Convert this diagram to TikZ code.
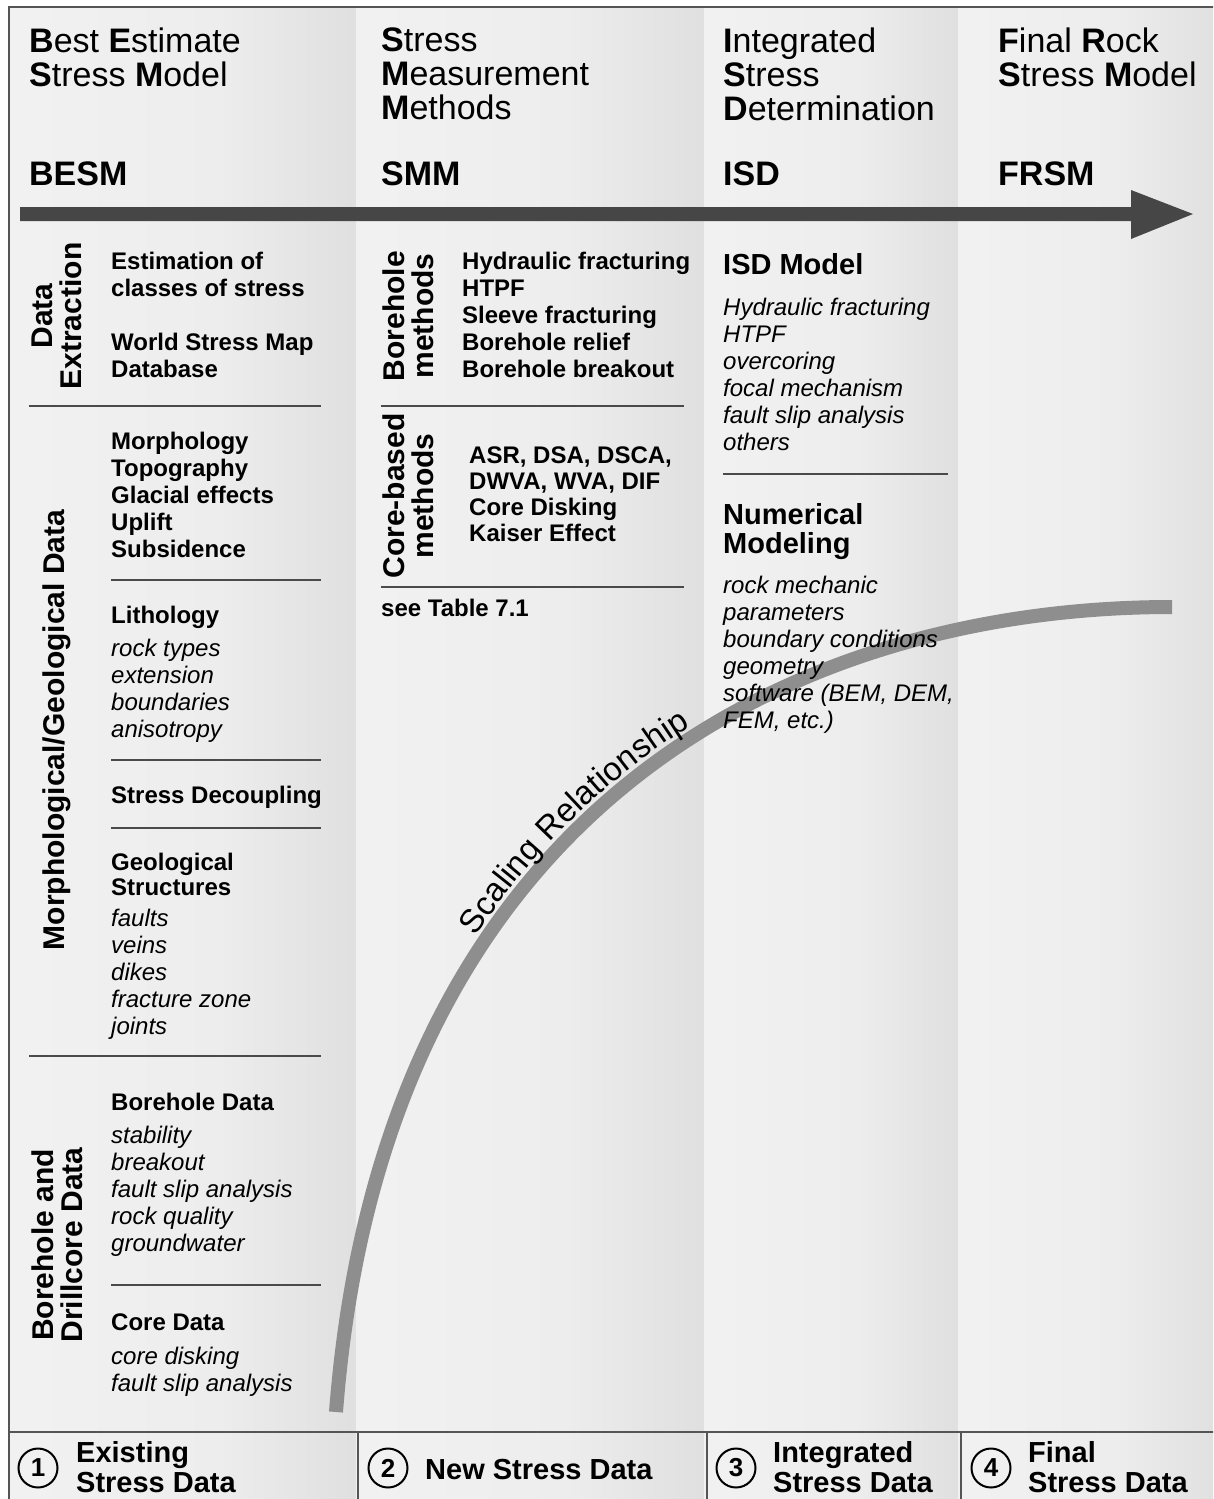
\documentclass[tikz,border=0pt]{standalone}
\usepackage{fontspec}
\setmainfont{Liberation Sans}
\usetikzlibrary{decorations.text}
\definecolor{gz}{HTML}{F5F5F5}
\definecolor{ga}{HTML}{EDEDED}
\definecolor{gb}{HTML}{D9D9D9}
\definecolor{gc}{HTML}{B6B6B6}
\definecolor{rulec}{HTML}{4A4A4A}
\definecolor{framec}{HTML}{555555}
\definecolor{arrowc}{HTML}{464646}
\definecolor{curvec}{HTML}{8E8E8E}
\pgfdeclarehorizontalshading{colsh}{100bp}{color(0bp)=(gz); color(55bp)=(ga); color(85bp)=(gb); color(100bp)=(gc)}
\newcommand\scfont{\fontsize{33}{33}\selectfont}
\begin{document}
\begin{tikzpicture}[x=1pt,y=-1pt,
  hd/.style={font=\fontsize{34}{34}\selectfont, anchor=north west, inner sep=0, align=left},
  hdb/.style={font=\bfseries\fontsize{34}{34}\selectfont, anchor=north west, inner sep=0},
  bl/.style={font=\bfseries\fontsize{24}{27}\selectfont, anchor=north west, inner sep=0, align=left},
  blb/.style={font=\bfseries\fontsize{29}{29}\selectfont, anchor=north west, inner sep=0, align=left},
  it/.style={font=\itshape\fontsize{24}{27}\selectfont, anchor=north west, inner sep=0, align=left},
  vt/.style={font=\bfseries\fontsize{30}{29}\selectfont, rotate=90, align=center, inner sep=0},
  bt/.style={font=\bfseries\fontsize{29}{30}\selectfont, anchor=north west, inner sep=0, align=left},
  circ/.style={circle, draw, line width=2pt, minimum size=39pt, inner sep=0, font=\bfseries\fontsize{26}{26}\selectfont},
  rule/.style={draw=rulec, line width=2pt},
  frame/.style={draw=framec, line width=2.5pt}
]
\useasboundingbox (0,0) rectangle (1213,1499);
\clip (0,0) rectangle (1213,1499);
\fill[white] (0,0) rectangle (1213,1499);
% columns
\shade[shading=colsh] (9,7) rectangle (356,1520);
\shade[shading=colsh] (356,7) rectangle (704,1520);
\shade[shading=colsh] (704,7) rectangle (958,1520);
\shade[shading=colsh] (958,7) rectangle (1222,1520);
% frame and bottom row
\draw[frame] (9,1520) -- (9,7) -- (1240,7);
\draw[frame] (9,1432) -- (1240,1432);
\draw[frame] (358,1432) -- (358,1520);
\draw[frame] (707,1432) -- (707,1520);
\draw[frame] (961,1432) -- (961,1520);
% scaling curve (beneath the texts)
\coordinate (cs) at (336,1412);
\coordinate (ce) at (1172,607);
\draw[curvec, line width=14pt] (cs) .. controls (383,800) and (800,607) .. (ce);
\path[decorate, decoration={text along path, text={|\scfont|Scaling Relationship}, text align={left indent=498pt}, raise=10pt}] (cs) .. controls (383,800) and (800,607) .. (ce);
% headers
\node[hd] (h1) at (29,28) {\textbf{B}est \textbf{E}stimate\\\textbf{S}tress \textbf{M}odel};
\node[hd] (h2) at (381,28) {\textbf{S}tress\\\textbf{M}easurement\\\textbf{M}ethods};
\node[hd] (h3) at (723,28) {\textbf{I}ntegrated\\\textbf{S}tress\\\textbf{D}etermination};
\node[hd] (h4) at (998,28) {\textbf{F}inal \textbf{R}ock\\\textbf{S}tress \textbf{M}odel};
\node[hdb] (a1) at (29,162) {BESM};
\node[hdb] (a2) at (381,162) {SMM};
\node[hdb] (a3) at (723,162) {ISD};
\node[hdb] (a4) at (998,162) {FRSM};
% main arrow
\fill[arrowc] (20,207) -- (1131,207) -- (1131,190) -- (1193,214) -- (1131,239) -- (1131,221) -- (20,221) -- cycle;
% column 1
\node[vt] (de) at (57,316) {Data\\Extraction};
\node[vt] (mg) at (57,730) {Morphological/Geological Data};
\node[vt] (bd) at (57,1245) {Borehole and\\Drillcore Data};
\node[bl] (ext1) at (111,252) {Estimation of\\classes of stress};
\node[bl] (ext2) at (111,333) {World Stress Map\\Database};
\draw[rule] (29,406) -- (321,406);
\node[bl] (morph) at (111,432) {Morphology\\Topography\\Glacial effects\\Uplift\\Subsidence};
\draw[rule] (111,580) -- (321,580);
\node[bl] (lith) at (111,606) {Lithology};
\node[it] (lithi) at (111,639) {rock types\\extension\\boundaries\\anisotropy};
\draw[rule] (111,760) -- (321,760);
\node[bl] (decp) at (111,786) {Stress Decoupling};
\draw[rule] (111,828) -- (321,828);
\node[bl, font=\bfseries\fontsize{24}{25}\selectfont] (geo) at (111,853) {Geological\\Structures};
\node[it] (geoi) at (111,909) {faults\\veins\\dikes\\fracture zone\\joints};
\draw[rule] (29,1056) -- (321,1056);
\node[bl] (bore) at (111,1093) {Borehole Data};
\node[it] (borei) at (111,1126) {stability\\breakout\\fault slip analysis\\rock quality\\groundwater};
\draw[rule] (111,1285) -- (321,1285);
\node[bl] (core) at (111,1314) {Core Data};
\node[it] (corei) at (111,1347) {core disking\\fault slip analysis};
% column 2
\node[vt] (bm) at (408,316) {Borehole\\methods};
\node[bl] (bmi) at (462,252) {Hydraulic fracturing\\HTPF\\Sleeve fracturing\\Borehole relief\\Borehole breakout};
\draw[rule] (381,406) -- (684,406);
\node[vt] (cb) at (408,496) {Core-based\\methods};
\node[bl, font=\bfseries\fontsize{24}{26}\selectfont] (cbi) at (469,447) {ASR, DSA, DSCA,\\DWVA, WVA, DIF\\Core Disking\\Kaiser Effect};
\draw[rule] (381,587) -- (684,587);
\node[bl] (tab) at (381,599) {see Table 7.1};
% column 3
\node[blb] (isd) at (723,253) {ISD Model};
\node[it] (isdi) at (723,298) {Hydraulic fracturing\\HTPF\\overcoring\\focal mechanism\\fault slip analysis\\others};
\draw[rule] (723,474) -- (948,474);
\node[blb] (num) at (723,503) {Numerical\\Modeling};
\node[it] (numi) at (723,576) {rock mechanic\\parameters\\boundary conditions\\geometry\\software (BEM, DEM,\\FEM, etc.)};
% bottom row
\node[circ] (c1) at (38,1468) {1};
\node[bt] (b1) at (76,1441) {Existing\\Stress Data};
\node[circ] (c2) at (388,1468) {2};
\node[bt, anchor=west] (b2) at (425,1469) {New Stress Data};
\node[circ] (c3) at (736,1468) {3};
\node[bt] (b3) at (773,1441) {Integrated\\Stress Data};
\node[circ] (c4) at (991,1468) {4};
\node[bt] (b4) at (1028,1441) {Final\\Stress Data};
\end{tikzpicture}
\end{document}
